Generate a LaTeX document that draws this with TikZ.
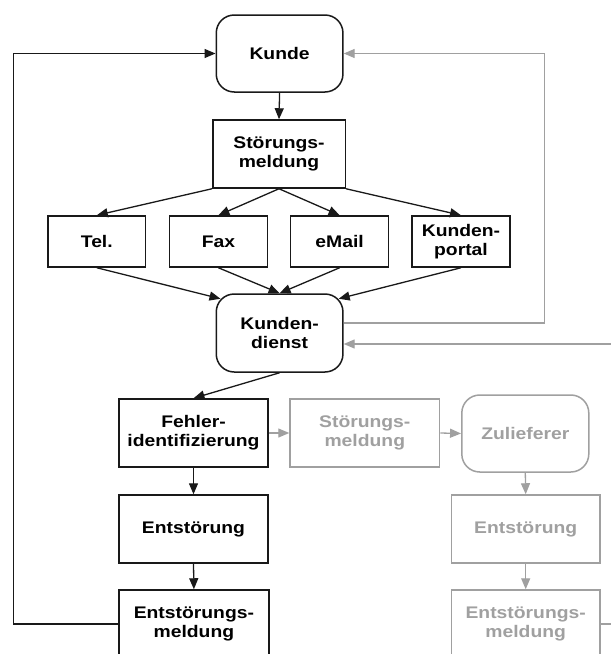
\documentclass[tikz,border=0pt]{standalone}
\usepackage{fontspec}
\setmainfont{Liberation Sans}[FakeStretch=1.15]
\usetikzlibrary{arrows.meta,calc}
\definecolor{lg}{RGB}{160,160,160}
\definecolor{dk}{RGB}{25,25,25}
\tikzset{
  box/.style={draw=dk, line width=1.5pt, align=center, inner sep=0pt,
    font=\fontsize{16.8}{19}\selectfont\bfseries, text=black},
  gbox/.style={box, draw=lg, text=lg},
  rbox/.style={box, rounded corners=18pt},
  grbox/.style={gbox, rounded corners=18pt},
  arr/.style={draw=dk, line width=1.3pt, -{Triangle[length=11pt,width=9pt]}},
  garr/.style={draw=lg, line width=1.3pt, -{Triangle[length=11pt,width=9pt]}},
  gline/.style={draw=lg, line width=1.3pt},
}
\begin{document}
\begin{tikzpicture}[x=1pt,y=-1pt]
\useasboundingbox (0,0) rectangle (611,654);
\clip (0,0) rectangle (611,654);
\fill[white] (0,0) rectangle (611,654);

\node[rbox, minimum width=126.7pt, minimum height=77pt] (kunde) at (279.6,53.5) {Kunde};
\node[box, minimum width=132.5pt, minimum height=68pt] (stoer) at (279,154) {Störungs-\\meldung};
\node[box, minimum width=97.8pt, minimum height=51pt] (tel) at (96.8,241.5) {Tel.};
\node[box, minimum width=97.8pt, minimum height=51pt] (fax) at (218.4,241.5) {Fax};
\node[box, minimum width=97.8pt, minimum height=51pt] (email) at (339.6,241.5) {eMail};
\node[box, minimum width=97.8pt, minimum height=51pt] (portal) at (461,241.5) {Kunden-\\portal};
\node[rbox, minimum width=126.7pt, minimum height=78pt] (kd) at (279.6,333) {Kunden-\\dienst};
\node[box, minimum width=149.2pt, minimum height=68pt] (fehler) at (193.5,433) {Fehler-\\identifizierung};
\node[gbox, minimum width=149.6pt, minimum height=68pt] (gstoer) at (364.8,433) {Störungs-\\meldung};
\node[grbox, minimum width=127pt, minimum height=77pt] (zul) at (525.3,433.5) {Zulieferer};
\node[box, minimum width=149.2pt, minimum height=68pt] (ent) at (193.5,529) {Entstörung};
\node[gbox, minimum width=148.9pt, minimum height=68pt] (gent) at (525.7,529) {Entstörung};
\node[box, minimum width=150pt, minimum height=68pt] (em) at (193.9,624) {Entstörungs-\\meldung};
\node[gbox, minimum width=148.9pt, minimum height=68pt] (gem) at (525.7,624) {Entstörungs-\\meldung};

\coordinate (kdtl) at ($(kd.north west)+(5,5.5)$);
\coordinate (kdtr) at ($(kd.north east)+(-5,5.5)$);
\coordinate (redge) at (615,344);
\coordinate (redge2) at (615,624);

\draw[arr] (kunde.south) -- (stoer.north);
\draw[arr] (stoer.south west) -- (tel.north);
\draw[arr] (stoer.south) -- (fax.north);
\draw[arr] (stoer.south) -- (email.north);
\draw[arr] (stoer.south east) -- (portal.north);
\draw[arr] (tel.south) -- (kdtl);
\draw[arr] (fax.south) -- (kd.north);
\draw[arr] (email.south) -- (kd.north);
\draw[arr] (portal.south) -- (kdtr);
\draw[arr] (kd.south) -- (fehler.north);
\draw[arr] (fehler.south) -- (ent.north);
\draw[arr] (ent.south) -- (em.north);
\draw[arr] (em.west) -- ++(-104.9,0) |- (kunde.west);

\draw[garr] ($(kd.east)+(0,-10)$) -- (544.4,323) |- (kunde.east);
\draw[garr] (redge) -- ($(kd.east)+(0,11)$);
\draw[garr] (fehler.east) -- (gstoer.west);
\draw[garr] (gstoer.east) -- (zul.west);
\draw[garr] (zul.south) -- (gent.north);
\draw[garr] (gent.south) -- (gem.north);
\draw[gline] (gem.east) -- (redge2);
\end{tikzpicture}
\end{document}
